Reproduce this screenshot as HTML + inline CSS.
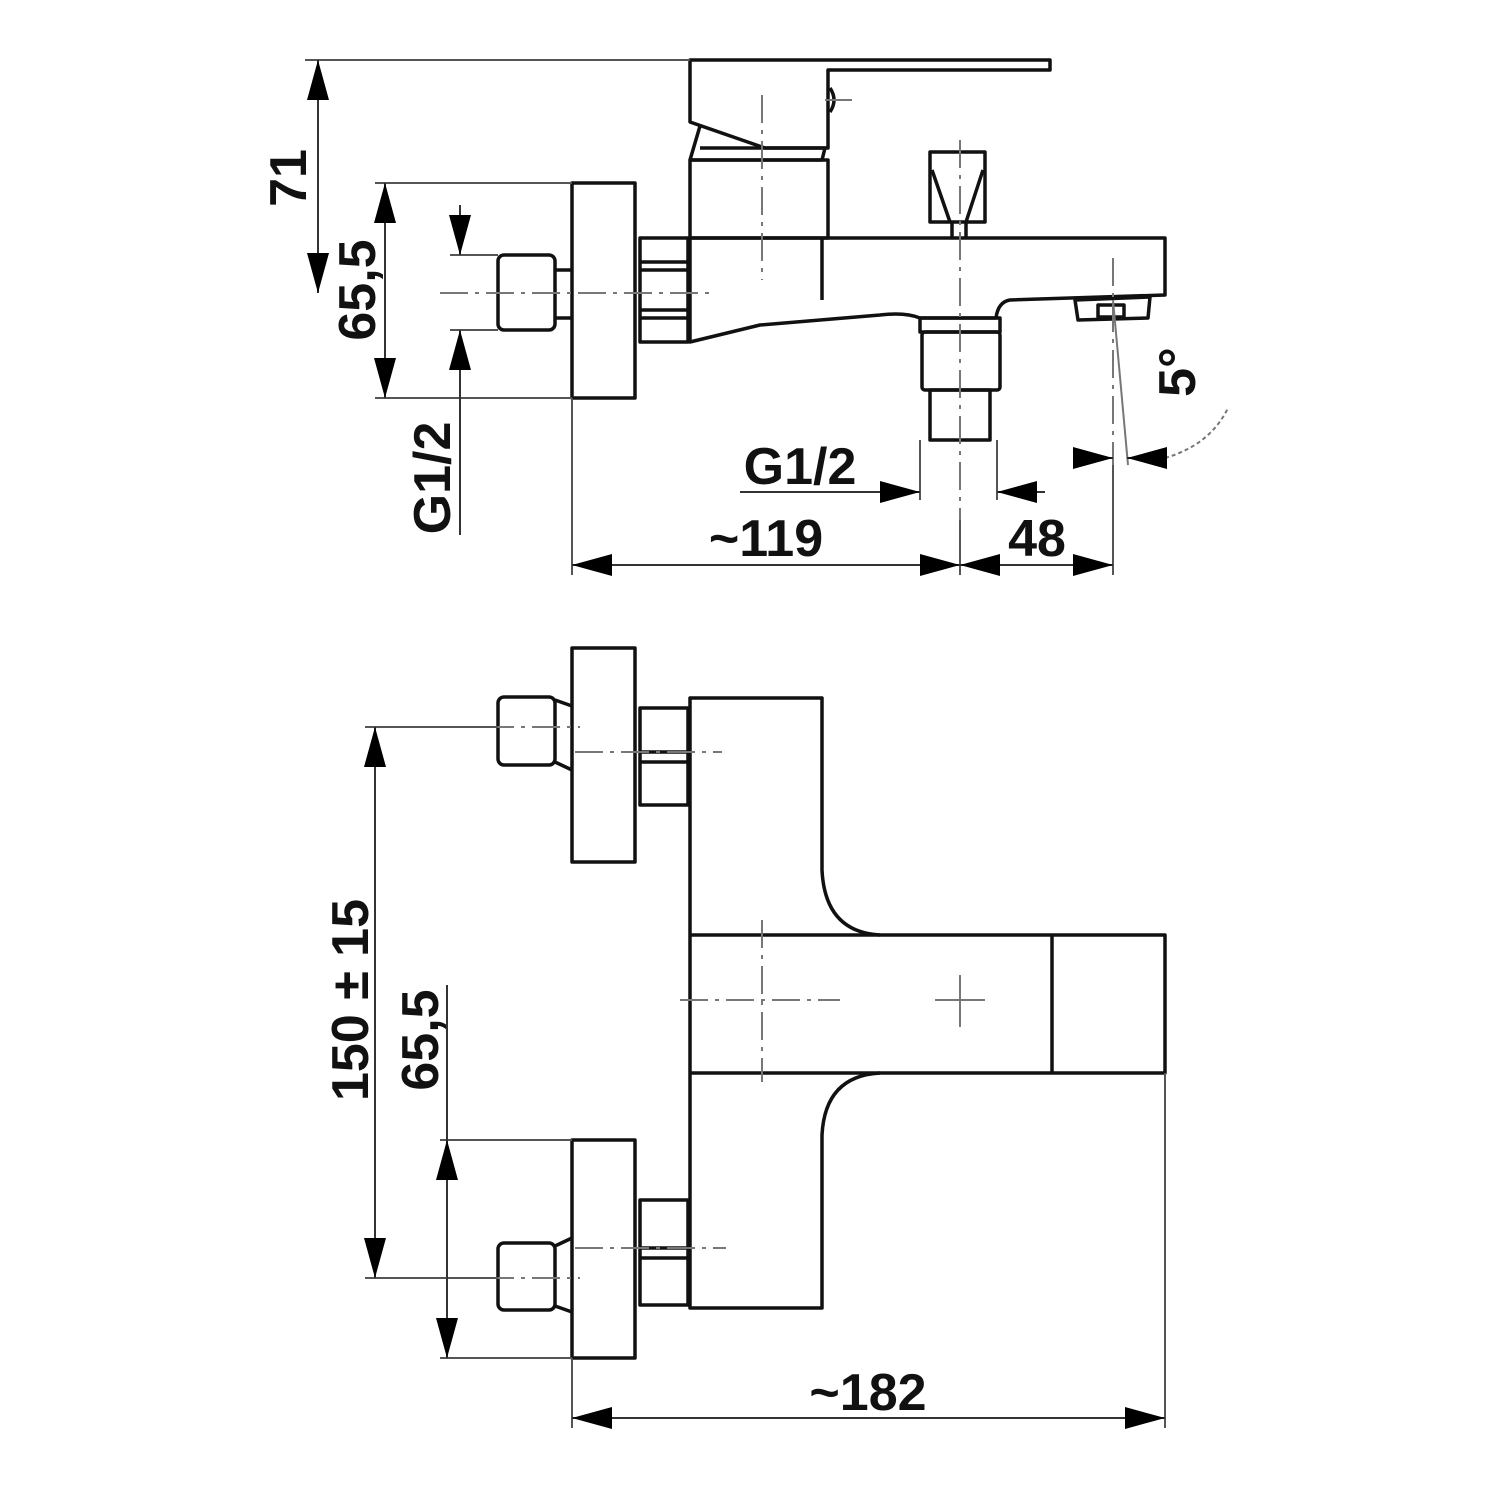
<!DOCTYPE html>
<html><head><meta charset="utf-8"><style>
html,body{margin:0;padding:0;background:#fff;}
svg{display:block;}
text{font-family:"Liberation Sans",Arial,sans-serif;font-weight:bold;font-size:52px;fill:#111;}
</style></head><body>
<svg width="1500" height="1500" viewBox="0 0 1500 1500" xmlns="http://www.w3.org/2000/svg">
<defs>
<marker id="a" viewBox="0 0 40 22" refX="40" refY="11" markerWidth="40" markerHeight="22" markerUnits="userSpaceOnUse" orient="auto"><path d="M0,0 L40,11 L0,22 Z" fill="#000"/></marker>
</defs>
<g fill="none" stroke="#111" stroke-width="3.5" stroke-linejoin="round">
<!-- TOP VIEW -->
<!-- lever -->
<path d="M690,60 L1050,60 L1050,70 L828,70 L828,148 L765,148 L690,122 Z"/>
<path d="M700,126 L690,160"/>
<path d="M700,148 L825,148 L822,160 L690,160"/>
<path d="M830,88 Q838,100 830,112"/>
<!-- body -->
<rect x="690" y="160" width="138" height="78"/>
<!-- spout -->
<path d="M690,238 L1165,238 L1165,295 L1010,300 Q998,302 996,318 L920,318 Q905,312 880,315 L760,325 L690,342 Z"/>
<path d="M822,238 L822,300"/>
<path d="M1075,300 L1150,297 L1148,318 L1078,320 Z"/>
<rect x="1098" y="305" width="26" height="12"/>
<!-- diverter -->
<path d="M930,152 L985,152 L985,222 L930,222 Z"/>
<path d="M932,170 L950,222 M983,170 L966,222 M952,222 L952,238 M966,222 L966,238"/>
<!-- outlet -->
<rect x="920" y="318" width="80" height="14"/>
<rect x="922" y="332" width="78" height="58" rx="3"/>
<rect x="930" y="390" width="60" height="50"/>
<!-- flange & nut -->
<rect x="572" y="183" width="63" height="215"/>
<rect x="640" y="238" width="48" height="104"/>
<path d="M640,262 L688,262 M640,270 L688,270 M640,310 L688,310 M640,318 L688,318"/>
<rect x="498" y="255" width="57" height="75" rx="6"/>
<path d="M555,270 L572,270 M555,318 L572,318"/>

<!-- BOTTOM VIEW -->
<rect x="572" y="648" width="63" height="214"/>
<rect x="498" y="697" width="57" height="68" rx="6"/>
<path d="M555,700 L572,706 M555,762 L572,770"/>
<rect x="640" y="708" width="48" height="97"/>
<path d="M640,752 L688,752 M640,762 L688,762"/>
<path d="M690,698 L822,698 L822,870 Q825,932 880,935 L1165,935 L1165,1073 L880,1073 Q825,1076 822,1135 L822,1308 L690,1308 Z"/>
<path d="M690,935 L880,935 M690,1073 L880,1073 M1052,935 L1052,1073"/>
<rect x="572" y="1140" width="63" height="218"/>
<rect x="498" y="1243" width="57" height="67" rx="6"/>
<path d="M555,1246 L572,1238 M555,1306 L572,1312"/>
<rect x="640" y="1200" width="48" height="105"/>
<path d="M640,1248 L688,1248 M640,1258 L688,1258"/>
</g>

<!-- centerlines -->
<g fill="none" stroke="#777" stroke-width="2" stroke-dasharray="28,7,4,7">
<path d="M440,293 L710,293"/>
<path d="M762,95 L762,280"/>
<path d="M960,140 L960,520"/>
<path d="M1113,258 L1113,470"/>
<path d="M825,100 L852,100"/>
<path d="M680,1000 L840,1000"/>
<path d="M762,920 L762,1082"/>
<path d="M440,727 L580,727 M575,752 L722,752"/>
<path d="M575,1248 L726,1248 M440,1278 L580,1278"/>
</g>
<g stroke="#777" stroke-width="2" fill="none">
<path d="M960,975 L960,1027 M935,1000 L985,1000"/>
<path d="M1113,300 L1128,465"/>
<path d="M1165,458 Q1210,445 1228,408" stroke-dasharray="4,3"/>
</g>

<!-- dimension / extension lines -->
<g fill="none" stroke="#555" stroke-width="2">
<path d="M305,60 L690,60"/>
<path d="M375,183 L572,183 M375,398 L572,398"/>
<path d="M450,255 L498,255 M450,330 L498,330"/>
<path d="M572,398 L572,575"/>
<path d="M920,440 L920,500 M997,440 L997,500 M960,520 L960,575"/>
<path d="M1113,465 L1113,575"/>
<path d="M365,727 L498,727 M365,1278 L498,1278"/>
<path d="M440,1140 L572,1140 M440,1358 L572,1358"/>
<path d="M572,1358 L572,1428 M1165,1073 L1165,1428"/>
</g>
<g fill="none" stroke="#333" stroke-width="2">
<path d="M318,100 L318,60" marker-end="url(#a)"/><path d="M318,100 L318,293" marker-end="url(#a)"/>
<path d="M385,290 L385,183" marker-end="url(#a)"/><path d="M385,290 L385,398" marker-end="url(#a)"/>
<path d="M460,205 L460,255" marker-end="url(#a)"/><path d="M460,535 L460,330" marker-end="url(#a)"/>
<path d="M740,492 L920,492" marker-end="url(#a)"/><path d="M1045,492 L997,492" marker-end="url(#a)"/>
<path d="M700,565 L572,565" marker-end="url(#a)"/><path d="M700,565 L960,565" marker-end="url(#a)"/>
<path d="M1040,565 L960,565" marker-end="url(#a)"/><path d="M1040,565 L1113,565" marker-end="url(#a)"/>
<path d="M1075,458 L1113,458" marker-end="url(#a)"/><path d="M1167,458 L1127,458" marker-end="url(#a)"/>
<path d="M375,1000 L375,727" marker-end="url(#a)"/><path d="M375,1000 L375,1278" marker-end="url(#a)"/>
<path d="M447,985 L447,1250" /><path d="M447,1250 L447,1140" marker-end="url(#a)"/><path d="M447,1250 L447,1358" marker-end="url(#a)"/>
<path d="M870,1418 L572,1418" marker-end="url(#a)"/><path d="M870,1418 L1165,1418" marker-end="url(#a)"/>
</g>

<!-- labels -->
<text transform="translate(306,178) rotate(-90)" text-anchor="middle">71</text>
<text transform="translate(375,290) rotate(-90)" text-anchor="middle">65,5</text>
<text transform="translate(450,478) rotate(-90)" text-anchor="middle">G1/2</text>
<text x="800" y="484" text-anchor="middle">G1/2</text>
<text x="766" y="556" text-anchor="middle">~119</text>
<text x="1037" y="556" text-anchor="middle">48</text>
<text transform="translate(1195,372) rotate(-90)" text-anchor="middle">5°</text>
<text transform="translate(368,1000) rotate(-90)" text-anchor="middle">150 ± 15</text>
<text transform="translate(438,1040) rotate(-90)" text-anchor="middle">65,5</text>
<text x="868" y="1410" text-anchor="middle">~182</text>
</svg>
</body></html>
